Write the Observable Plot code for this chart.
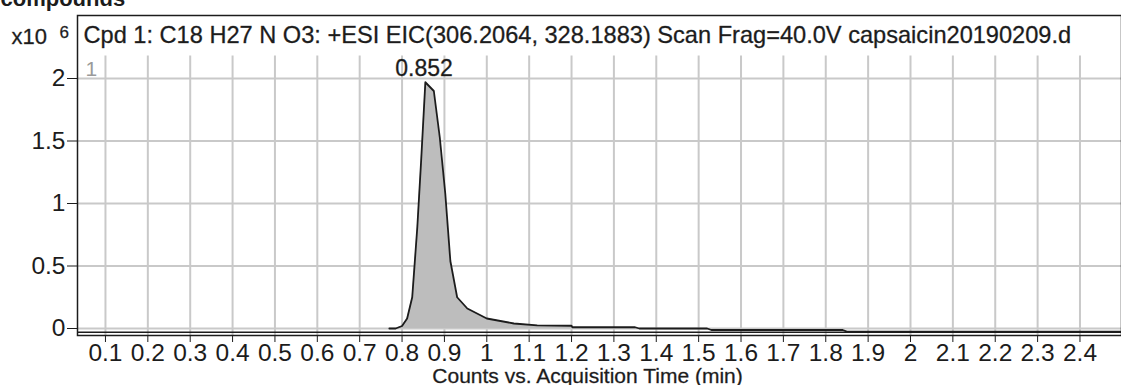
<!DOCTYPE html>
<html><head><meta charset="utf-8">
<script src="https://cdn.jsdelivr.net/npm/d3@7"></script>
<script src="https://cdn.jsdelivr.net/npm/@observablehq/plot@0.6"></script>
<style>
body{margin:0;background:#fff}
#chart svg{display:block;overflow:visible}
</style>
</head><body><div id="chart"></div>
<script>
// Extracted ion chromatogram (counts in units of 10^6)
const times  = [0.770, 0.785, 0.800, 0.812, 0.824, 0.836, 0.845, 0.855, 0.875, 0.889, 0.902, 0.914, 0.930, 0.954, 1.000, 1.064, 1.119, 1.200, 1.202, 1.350, 1.360, 1.520, 1.530, 1.840, 1.850, 2.498];
const counts = [0.000, 0.000, 0.020, 0.080, 0.250, 0.810, 1.340, 1.970, 1.900, 1.530, 1.080, 0.540, 0.250, 0.160, 0.080, 0.040, 0.025, 0.022, 0.010, 0.010, 0.000, 0.000, -0.012, -0.012, -0.025, -0.025];
const integStart = 0.785, integEnd = 1.2;
const peakTime = 0.852, peakLabel = "0.852", peakTop = 1.97;

const xTicks = [0.1,0.2,0.3,0.4,0.5,0.6,0.7,0.8,0.9,1,1.1,1.2,1.3,1.4,1.5,1.6,1.7,1.8,1.9,2,2.1,2.2,2.3,2.4];
const xTickLabels = ["0.1","0.2","0.3","0.4","0.5","0.6","0.7","0.8","0.9","1","1.1","1.2","1.3","1.4","1.5","1.6","1.7","1.8","1.9","2","2.1","2.2","2.3","2.4"];
const yTicks = [0, 0.5, 1, 1.5, 2];
const yTickLabels = ["0","0.5","1","1.5","2"];

const titleText = "Cpd 1: C18 H27 N O3: +ESI EIC(306.2064, 328.1883) Scan Frag=40.0V capsaicin20190209.d";
const xLabel = "Counts vs. Acquisition Time (min)";
const yScaleBase = "x10", yScaleExp = "6";
const panelIndex = "1";
const headerText = "compounds";

const trace = times.map((t, i) => ({t, c: counts[i]}));
const peakArea = trace.filter(d => d.t >= integStart && d.t <= integEnd);
const fmtX = new Map(xTicks.map((v, i) => [v, xTickLabels[i]]));
const fmtY = new Map(yTicks.map((v, i) => [v, yTickLabels[i]]));
const font = "'Liberation Sans', Arial, sans-serif";
const ink = "#1c1c1c";
const halo = {stroke: "#555", strokeWidth: 0.35};

const plot = Plot.plot({
  width: 1121, height: 385,
  marginLeft: 77, marginRight: 0, marginTop: 15, marginBottom: 50,
  style: {fontFamily: font, color: ink, background: "#fff"},
  x: {domain: [0.034, 2.498]},
  y: {domain: [-0.056, 2.504]},
  marks: [
    Plot.ruleX(xTicks, {x: d => d, y1: -0.056, y2: 2.18, stroke: "#c9c9c9", strokeWidth: 2}),
    Plot.ruleY(yTicks, {y: d => d, stroke: "#c9c9c9", strokeWidth: 2}),
    Plot.areaY(peakArea, {x: "t", y: "c", fill: "#bdbdbd"}),
    Plot.lineY(trace, {x: "t", y: "c", stroke: ink, strokeWidth: 1.8}),
    Plot.ruleY([-0.03], {stroke: ink, strokeWidth: 1.5}),
    Plot.frame({stroke: ink, strokeWidth: 1.5}),
    Plot.axisX(xTicks, {tickSize: 7, tickPadding: 1, fontSize: 24.5, tickFormat: d => fmtX.get(d), stroke: ink, fill: ink, label: null}),
    Plot.axisY(yTicks, {tickSize: 10, tickPadding: 2, fontSize: 24.5, tickFormat: d => fmtY.get(d), stroke: ink, fill: ink, label: null}),
    Plot.text([titleText], {frameAnchor: "top-left", textAnchor: "start", lineAnchor: "bottom", dx: 6, dy: 27, fontSize: 23.6, fill: ink, ...halo}),
    Plot.text([yScaleBase], {frameAnchor: "top-left", textAnchor: "start", lineAnchor: "bottom", dx: -66, dy: 28, fontSize: 22, fill: ink, ...halo}),
    Plot.text([yScaleExp], {frameAnchor: "top-left", textAnchor: "start", lineAnchor: "bottom", dx: -18, dy: 22, fontSize: 17, fill: ink, ...halo}),
    Plot.text([panelIndex], {frameAnchor: "top-left", textAnchor: "start", lineAnchor: "bottom", dx: 8, dy: 60, fontSize: 21, fill: "#9a9a9a"}),
    Plot.text([headerText], {frameAnchor: "top-left", textAnchor: "start", lineAnchor: "bottom", dx: -77, dy: -10, fontSize: 22, fontWeight: "bold", fill: ink}),
    Plot.text([{t: peakTime, c: peakTop}], {x: "t", y: "c", text: () => peakLabel, lineAnchor: "bottom", dy: -6, fontSize: 23, fill: ink, ...halo}),
    Plot.text([xLabel], {frameAnchor: "bottom", textAnchor: "middle", lineAnchor: "bottom", dx: -12, dy: 47, fontSize: 21, fill: ink, ...halo})
  ]
});
document.getElementById("chart").append(plot);
</script>
</body></html>
